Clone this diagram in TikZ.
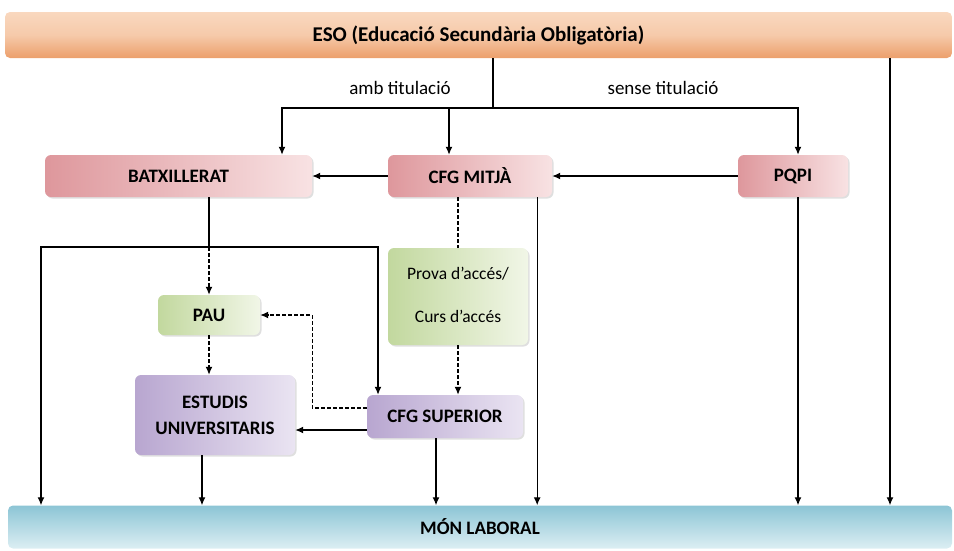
\documentclass[tikz,border=0pt]{standalone}
\usepackage{fontspec}
\setmainfont{Carlito}
\usepackage{tikz}
\usetikzlibrary{positioning}
\usetikzlibrary{calc}
\usetikzlibrary{arrows.meta}
\usetikzlibrary{shadows}

\definecolor{esoA}{HTML}{F9D8BF}
\definecolor{esoB}{HTML}{EC9F6B}
\definecolor{redA}{HTML}{DE979C}
\definecolor{redB}{HTML}{F8E2E3}
\definecolor{greenA}{HTML}{C2D89E}
\definecolor{greenB}{HTML}{F1F6E7}
\definecolor{lilaA}{HTML}{B8A6D0}
\definecolor{lilaB}{HTML}{EAE4F2}
\definecolor{monA}{HTML}{8CC5D5}
\definecolor{monB}{HTML}{DCEEF3}

\tikzset{
  box/.style={rounded corners=6pt, inner sep=0pt, align=center, font=\fontsize{19}{26}\selectfont\bfseries,
    drop shadow={opacity=0.25, shadow xshift=1.5pt, shadow yshift=-1.5pt}},
  redbox/.style={box, left color=redA, right color=redB},
  greenbox/.style={box, left color=greenA, right color=greenB, font=\fontsize{17.5}{43}\selectfont},
  lilabox/.style={box, left color=lilaA, right color=lilaB},
  bar/.style={rounded corners=5pt, inner sep=0pt, font=\fontsize{19}{22}\selectfont\bfseries},
  arr/.style={line width=1.3pt, -{Latex[length=8pt,width=7pt]}},
  ln/.style={line width=1.3pt},
  dash arr/.style={arr, dash pattern=on 3.5pt off 2.5pt},
  dash ln/.style={ln, dash pattern=on 3.5pt off 2.5pt},
  lbl/.style={font=\fontsize{19}{22}\selectfont}
}

\begin{document}
\begin{tikzpicture}[x=1pt,y=-1pt]
\useasboundingbox (0,0) rectangle (954,550);

% bars
\node[bar, font=\fontsize{21}{24}\selectfont\bfseries, minimum width=947pt, minimum height=46pt, top color=esoA, bottom color=esoB, middle color=esoA!75!esoB] (eso) at (478.5,35) {ESO (Educació Secundària Obligatòria)};
\node[bar, minimum width=944pt, minimum height=43pt, top color=monA, bottom color=monB] (mon) at (480,527) {MÓN LABORAL};

% boxes
\node[redbox, minimum width=267pt, minimum height=42pt] (batx) at (178.5,176) {BATXILLERAT};
\node[redbox, minimum width=164pt, minimum height=42pt] (mitja) at (470,176) {CFG MITJÀ};
\node[redbox, minimum width=110pt, minimum height=42pt] (pqpi) at (793,176) {PQPI};
\node[greenbox, minimum width=140pt, minimum height=97pt] (prova) at (458,296.5) {\raisebox{3pt}{Prova d’accés/}\\\raisebox{3pt}{Curs d’accés}};
\node[greenbox, font=\fontsize{19}{22}\selectfont\bfseries, minimum width=102pt, minimum height=40pt] (pau) at (209,315) {PAU};
\node[lilabox, minimum width=160pt, minimum height=80pt] (estudis) at (215,415) {ESTUDIS\\UNIVERSITARIS};
\node[lilabox, minimum width=156pt, minimum height=43pt] (superior) at (445,416.5) {CFG SUPERIOR};

% labels
\node[lbl] (amb) at (400,88) {amb titulació};
\node[lbl] (sense) at (663,88) {sense titulació};

\coordinate (split) at (493,108);
\coordinate (bsplit) at (209,247);
\coordinate (lft) at (41,0);
\coordinate (rgt) at (890,0);
\coordinate (mitjaout) at ([xshift=-15pt]mitja.south east);
\coordinate (estout) at ([xshift=-13pt]estudis.south);
\coordinate (supout) at ([xshift=-9pt]superior.south);
\coordinate (pqpiout) at ([xshift=5pt]pqpi.south);
\coordinate (supdash) at ([yshift=8.5pt]superior.west);
\coordinate (supline) at ([yshift=-13.5pt]superior.west);

% from ESO
\draw[ln] (eso.south -| split) -- (split);
\draw[arr] (split) -| ([xshift=103.5pt]batx.north);
\draw[arr] (split) -| ([xshift=-21pt]mitja.north);
\draw[arr] (split) -| ([xshift=5pt]pqpi.north);
\draw[arr] (eso.south -| rgt) -- (mon.north -| rgt);

% across
\draw[arr] (pqpi) -- (mitja);
\draw[arr] (mitja) -- (batx);

% from BATXILLERAT
\draw[ln] ([xshift=30.5pt]batx.south) -- (bsplit);
\draw[arr] (bsplit) -| (mon.north -| lft);
\draw[arr] (bsplit) -| ([xshift=-67pt]superior.north);
\draw[dash arr] (bsplit) -- (pau.north);

% from CFG MITJA
\draw[dash ln] (prova.north |- mitja.south) -- (prova.north);
\draw[dash arr] (prova.south) -- (prova.south |- superior.north);
\draw[arr] (mitjaout) -- (mon.north -| mitjaout);

% PAU, superior, estudis
\draw[dash arr] (pau.south) -- (pau.south |- estudis.north);
\draw[dash arr] (supdash) -| ($(pau.east)+(52,0)$) -- (pau.east);
\draw[arr] (supline) -- (estudis.east |- supline);
\draw[arr] (estout) -- (mon.north -| estout);
\draw[arr] (supout) -- (mon.north -| supout);
\draw[arr] (pqpiout) -- (mon.north -| pqpiout);
\end{tikzpicture}
\end{document}
